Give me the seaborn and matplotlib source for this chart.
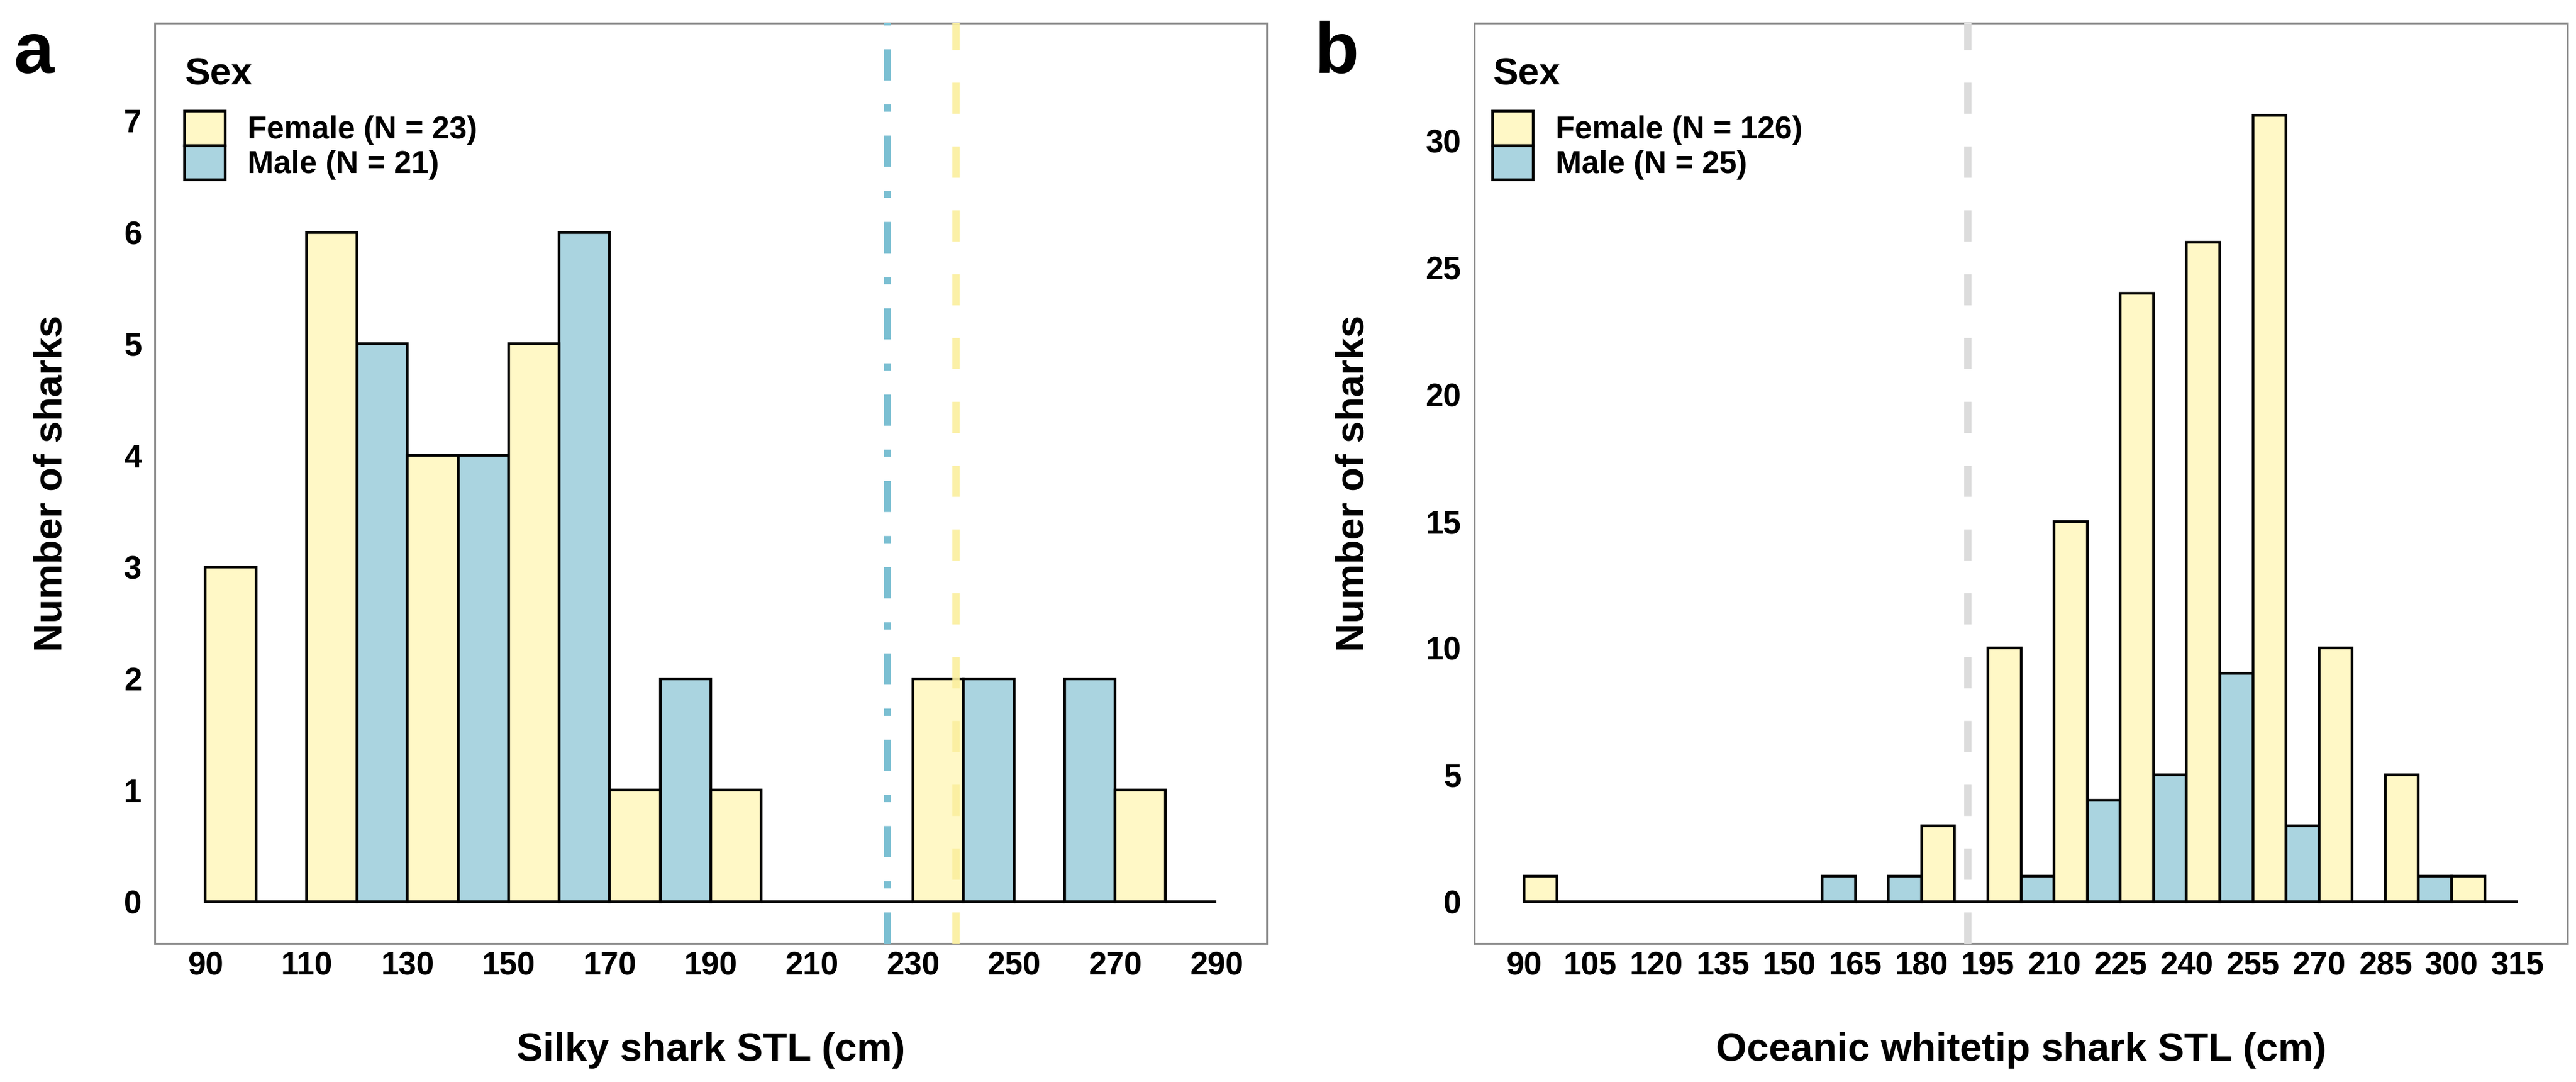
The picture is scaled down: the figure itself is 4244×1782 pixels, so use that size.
import pandas as pd
import matplotlib
matplotlib.use('Agg')
import matplotlib.pyplot as plt
import seaborn as sns
from matplotlib.patches import Patch

# Panel a: silky shark, 20 cm bins
silky_edges = [90, 110, 130, 150, 170, 190, 210, 230, 250, 270, 290]
silky_female = [3, 6, 4, 5, 1, 1, 0, 2, 0, 1]
silky_male = [0, 5, 4, 6, 2, 0, 0, 2, 2, 0]
silky_ticks = [90, 110, 130, 150, 170, 190, 210, 230, 250, 270, 290]
silky_yticks = [0, 1, 2, 3, 4, 5, 6, 7]
silky_lines = [225, 238.5]  # male, female reference lengths

# Panel b: oceanic whitetip shark, 15 cm bins
ow_edges = [90, 105, 120, 135, 150, 165, 180, 195, 210, 225, 240, 255, 270, 285, 300, 315]
ow_female = [1, 0, 0, 0, 0, 0, 3, 10, 15, 24, 26, 31, 10, 5, 1]
ow_male = [0, 0, 0, 0, 1, 1, 0, 1, 4, 5, 9, 3, 0, 1, 0]
ow_ticks = [90, 105, 120, 135, 150, 165, 180, 195, 210, 225, 240, 255, 270, 285, 300, 315]
ow_yticks = [0, 5, 10, 15, 20, 25, 30]
ow_line = 190.5

sex_order = ['Female', 'Male']
colors = {'Female': '#FFF8C6', 'Male': '#AAD4E0'}


def make_df(edges, fem, male):
    mids = [(edges[i] + edges[i + 1]) / 2 for i in range(len(edges) - 1)]
    return pd.DataFrame({'length': mids + mids,
                         'count': fem + male,
                         'Sex': ['Female'] * len(fem) + ['Male'] * len(male)})


sns.set_style('white')
plt.rcParams['font.family'] = ['Liberation Sans', 'DejaVu Sans']
plt.rcParams['font.weight'] = 'bold'
plt.rcParams['text.color'] = 'black'
plt.rcParams['axes.labelcolor'] = 'black'
plt.rcParams['xtick.labelcolor'] = 'black'
plt.rcParams['ytick.labelcolor'] = 'black'

W, H = 4244, 1782
fig = plt.figure(figsize=(W / 100, H / 100), dpi=100)
top_px, bot_px = 38, 1554
ax_a = fig.add_axes([255 / W, 1 - bot_px / H, 1832 / W, (bot_px - top_px) / H])
ax_b = fig.add_axes([2429 / W, 1 - bot_px / H, 1801 / W, (bot_px - top_px) / H])

panels = [
    (ax_a, make_df(silky_edges, silky_female, silky_male), silky_edges, silky_ticks, silky_yticks,
     (80, 300), (-0.375, 7.875), 'Silky shark STL (cm)', 'a', 23,
     ['Female (N = 23)', 'Male (N = 21)'], 0.0267, -0.0928),
    (ax_b, make_df(ow_edges, ow_female, ow_male), ow_edges, ow_ticks, ow_yticks,
     (78.75, 326.25), (-1.65, 34.65), 'Oceanic whitetip shark STL (cm)', 'b', 2165,
     ['Female (N = 126)', 'Male (N = 25)'], 0.0166, -0.1105),
]

for ax, df, edges, xt, yt, xlim, ylim, xlab, tag, tag_x, leg_labels, leg_x, ylab_x in panels:
    sns.histplot(data=df, x='length', weights='count', hue='Sex', hue_order=sex_order,
                 bins=edges, multiple='dodge', shrink=1, palette=colors,
                 edgecolor='black', linewidth=3.2, alpha=1, legend=False, ax=ax)
    ax.set_xlim(xlim)
    ax.set_ylim(ylim)
    ax.set_xticks(xt)
    ax.set_yticks(yt)
    ax.tick_params(axis='both', labelsize=38, length=8.6, width=2.2,
                   color='#555555', direction='out')
    ax.tick_params(axis='x', pad=0.5)
    ax.tick_params(axis='y', pad=7)
    for lab in ax.get_xticklabels() + ax.get_yticklabels():
        lab.set_fontweight('bold')
    for sp in ax.spines.values():
        sp.set_color('#8A8A8A')
        sp.set_linewidth(2.2)
    ax.set_xlabel(xlab, fontsize=47, fontweight='bold')
    ax.xaxis.set_label_coords(0.5, -0.116)
    ax.xaxis.label.set_va('center')
    ax.set_ylabel('Number of sharks', fontsize=47, fontweight='bold')
    ax.yaxis.set_label_coords(ylab_x, 0.5)
    ax.yaxis.label.set_va('center')

    handles = [Patch(facecolor=colors[s], edgecolor='black', linewidth=3.2) for s in sex_order]
    ax.legend(handles, leg_labels, loc='upper left', bbox_to_anchor=(leg_x, 0.9044),
              frameon=False, labelspacing=0, handlelength=1.3,
              handleheight=1.32, handletextpad=0.72, borderpad=0, borderaxespad=0,
              prop={'weight': 'bold', 'size': 37})
    ax.text(leg_x, 0.9333, 'Sex', transform=ax.transAxes, fontsize=45,
            fontweight='bold', va='baseline', ha='left')
    fig.text(tag_x / W, 1 - 120 / H, tag, fontsize=86, fontweight='bold',
             va='baseline', ha='left')

# reference length lines
ax_a.axvline(silky_lines[0], color='#7BBFD2', lw=8.6, dashes=(4.3, 3.3, 1, 3.3), zorder=5)
ax_a.axvline(silky_lines[1], color='#FBEF9E', lw=8.6, dashes=(4.3, 4.5), alpha=0.9, zorder=5)
ax_b.axvline(ow_line, color='#DCDCDC', lw=8.6, dashes=(4.3, 4.5), zorder=5)

fig.savefig('out.png', dpi=100)
